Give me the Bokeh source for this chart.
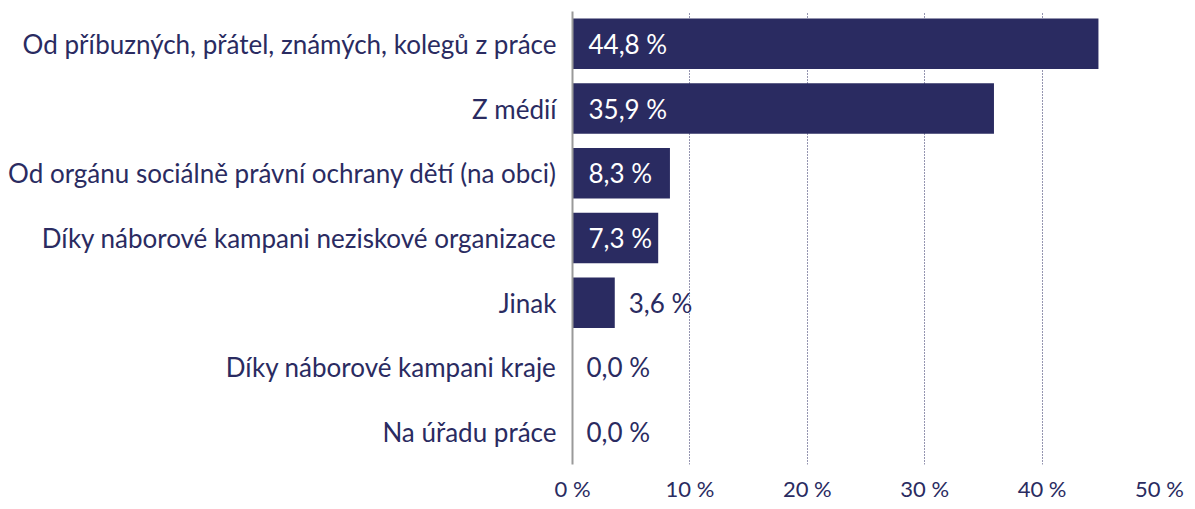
from bokeh.plotting import figure
from bokeh.models import ColumnDataSource, FixedTicker, CustomJSTickFormatter
from bokeh.core.properties import value
from bokeh.embed import file_html
from bokeh.resources import INLINE

categories = [
    "Od příbuzných, přátel, známých, kolegů z práce",
    "Z médií",
    "Od orgánu sociálně právní ochrany dětí (na obci)",
    "Díky náborové kampani neziskové organizace",
    "Jinak",
    "Díky náborové kampani kraje",
    "Na úřadu práce",
]
values = [44.8, 35.9, 8.3, 7.3, 3.6, 0.0, 0.0]
tick_values = [0, 10, 20, 30, 40, 50]

NAVY = "#2a2b61"
FONT = "Lato"

labels = [f"{v:.1f} %".replace(".", ",") for v in values]
inside = [v > 5 for v in values]

src = ColumnDataSource(dict(cat=categories, val=values, lab=labels))
src_in = ColumnDataSource(dict(
    cat=[c for c, i in zip(categories, inside) if i],
    x=[0 for i in inside if i],
    lab=[l for l, i in zip(labels, inside) if i],
))
src_out = ColumnDataSource(dict(
    cat=[c for c, i in zip(categories, inside) if not i],
    x=[v for v, i in zip(values, inside) if not i],
    lab=[l for l, i in zip(labels, inside) if not i],
))

p = figure(width=1190, height=507, y_range=list(reversed(categories)),
           x_range=(0, 50), output_backend="svg", toolbar_location=None,
           min_border_left=572, min_border_right=31, min_border_top=11,
           min_border_bottom=43)
p.outline_line_color = None
p.background_fill_color = "white"

p.hbar(y="cat", right="val", left=0, height=0.78, source=src,
       fill_color=NAVY, line_color=None)

p.text(x="x", y="cat", text="lab", source=src_in, x_offset=16,
       text_color="white", text_font=value(FONT), text_font_size="26px",
       text_baseline="middle", text_align="left")
p.text(x="x", y="cat", text="lab", source=src_out, x_offset=14,
       text_color=NAVY, text_font=value(FONT), text_font_size="26px",
       text_baseline="middle", text_align="left")

p.xaxis.ticker = FixedTicker(ticks=tick_values)
p.xaxis.formatter = CustomJSTickFormatter(code="return tick + ' %';")
p.xaxis.axis_line_color = None
p.xaxis.major_tick_line_color = None
p.xaxis.minor_tick_line_color = None
p.xaxis.major_tick_out = 0
p.xaxis.major_tick_in = 0
p.xaxis.major_label_text_font = FONT
p.xaxis.major_label_text_font_size = "22px"
p.xaxis.major_label_text_color = NAVY
p.xaxis.major_label_standoff = 10

p.yaxis.axis_line_color = "#9a9a9a"
p.yaxis.axis_line_width = 2
p.yaxis.major_tick_line_color = None
p.yaxis.minor_tick_line_color = None
p.yaxis.major_label_text_font = FONT
p.yaxis.major_label_text_font_size = "26px"
p.yaxis.major_label_text_color = NAVY
p.yaxis.major_label_standoff = 10

p.ygrid.grid_line_color = None
p.xgrid.grid_line_color = NAVY
p.xgrid.grid_line_dash = "1 2"
p.xgrid.grid_line_width = 1

open("out.html", "w").write(file_html(p, INLINE))
